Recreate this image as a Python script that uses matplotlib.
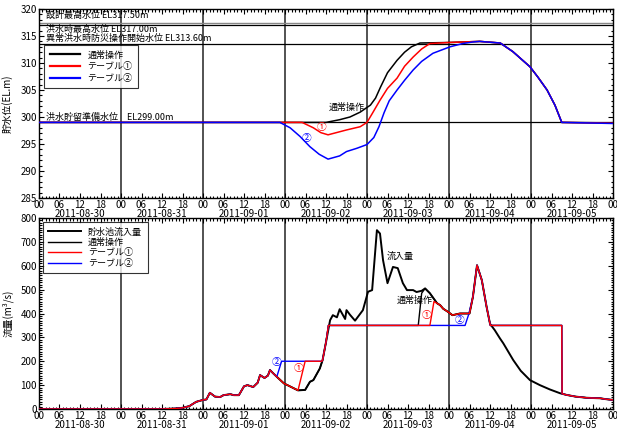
import matplotlib
matplotlib.use("Agg")
import matplotlib.pyplot as plt
from matplotlib.ticker import MultipleLocator

plt.rcParams['font.family'] = ['Noto Sans CJK JP', 'DejaVu Sans']

# 時間は 2011-08-30 00時 からの経過時間 [h]
dates = ['2011-08-30', '2011-08-31', '2011-09-01', '2011-09-02',
         '2011-09-03', '2011-09-04', '2011-09-05']
hour_labels = ['00', '06', '12', '18']

# 貯水位 (EL.m)
lvl_normal_t = [0, 84, 88, 91, 94, 97, 98.5, 100, 102, 104.8, 107, 109, 111.5,
                120, 129, 135, 138.7, 143.7, 146, 148.7, 151, 153, 168]
lvl_normal_v = [299.0, 299.0, 299.5, 300.0, 300.9, 302.2, 303.5, 305.6, 308.2,
                310.5, 312.0, 313.0, 313.7, 313.8, 314.0, 313.7, 312.1, 309.3,
                307.4, 305.0, 302.2, 299.0, 298.9]
lvl_t1_t = [0, 77, 80.3, 82.5, 84.6, 87, 90, 94, 96, 97.5, 99.8, 102, 104.8,
            107, 109.5, 112, 114.4, 120, 129, 135, 138.7, 143.7, 146, 148.7,
            151, 153, 168]
lvl_t1_v = [299.0, 299.0, 298.0, 297.1, 296.7, 297.1, 297.6, 298.2, 299.0,
            300.6, 303.1, 305.3, 307.2, 309.4, 311.1, 312.6, 313.6, 313.8,
            314.0, 313.7, 312.1, 309.3, 307.4, 305.0, 302.2, 299.0, 298.85]
lvl_t2_t = [0, 70.5, 73.5, 76.4, 79.3, 82, 84.6, 88, 90, 93, 96, 98, 99.5,
            101, 102.5, 104.8, 107, 109.5, 112, 115.3, 120.3, 124, 127, 129,
            135, 138.7, 143.7, 146, 148.7, 151, 153, 168]
lvl_t2_v = [299.0, 299.0, 298.0, 296.4, 294.5, 293.1, 292.2, 292.8, 293.6,
            294.2, 294.9, 296.2, 298.2, 300.8, 303.0, 305.0, 306.8, 308.7,
            310.3, 311.8, 313.0, 313.6, 313.9, 314.0, 313.7, 312.1, 309.3,
            307.4, 305.0, 302.2, 299.0, 298.8]

# 貯水池流入量 (m3/s)
inflow_t = [0, 36, 40, 42, 44, 46, 48, 49, 50, 51.5, 53, 54, 56, 57, 58.5, 60,
            61, 62.7, 64, 64.7, 66, 67, 67.6, 68.5, 69.6, 71.7, 73, 75.8, 77.9,
            79.3, 80.3, 82.2, 83, 84, 85.2, 86, 87.2, 88, 89.6, 90, 91, 92.5,
            94.8, 96.3, 97.5, 98.9, 99.8, 100.7, 102, 103.6, 105, 106.5, 107.7,
            109.5, 110.5, 112, 113, 114.4, 116.5, 117.4, 118.3, 119.7, 121,
            123.2, 126, 127, 128.2, 129.6, 131, 132, 133.4, 134.9, 135.9,
            138.8, 141, 143.7, 146.6, 149.5, 152.5, 154.4, 157, 160.3, 162,
            164.2, 166, 168]
inflow_v = [0, 0, 2, 5, 12, 30, 38, 40, 68, 52, 50, 58, 62, 58, 58, 95, 100,
            92, 110, 142, 130, 140, 163, 150, 135, 107, 98, 78, 80, 114, 121,
            170, 205, 280, 372, 393, 384, 418, 377, 414, 395, 370, 414, 491,
            498, 749, 735, 623, 527, 595, 590, 527, 498, 498, 490, 495, 505,
            485, 443, 435, 420, 407, 393, 400, 400, 470, 602, 540, 428, 357,
            330, 296, 275, 205, 160, 121, 100, 82, 66, 59, 52, 47, 46, 45, 41,
            38]

# 放流量 (m3/s)
early_t = [0, 36, 40, 42, 44, 46, 48, 49, 50, 51.5, 53, 54, 56, 57, 58.5, 60,
           61, 62.7, 64, 64.7, 66, 67, 67.6, 68.5, 69.6]
early_v = [0, 0, 2, 5, 12, 30, 38, 40, 68, 52, 50, 58, 62, 58, 58, 95, 100,
           92, 110, 142, 130, 140, 163, 150, 135]
tail_t = [132.1, 153, 153.1, 154.4, 157, 160.3, 162, 164.2, 166, 168]
tail_v = [350, 350, 64, 59, 52, 47, 46, 45, 41, 38]

out_normal_t = early_t + [71.7, 73, 75.8, 77.9, 79.3, 80.3, 82.2, 83, 84, 84.7,
                          111, 112, 113, 114.4, 116.5, 117.4, 118.3, 119.7, 121,
                          123.2, 126, 127, 128.2, 129.6, 131] + tail_t
out_normal_v = early_v + [107, 98, 78, 80, 114, 121, 170, 205, 280, 350,
                          350, 485, 505, 485, 443, 435, 420, 407, 393,
                          400, 400, 470, 602, 540, 428] + tail_v
out_t1_t = early_t + [71.7, 73, 75.8, 77.9, 82.8, 83, 84, 84.7, 114.4, 115.6,
                      116.5, 117.4, 118.3, 119.7, 121, 123.2, 126, 127, 128.2,
                      129.6, 131] + tail_t
out_t1_v = early_v + [107, 98, 78, 200, 200, 205, 280, 350, 350, 450,
                      443, 435, 420, 407, 393, 400, 400, 470, 602,
                      540, 428] + tail_v
out_t2_t = early_t + [71.0, 82.8, 83, 84, 84.7, 124.7, 125.8, 127, 128.2,
                      129.6, 131] + tail_t
out_t2_v = early_v + [200, 200, 205, 280, 350, 350, 398, 470, 602,
                      540, 428] + tail_v

FS = 7
fig = plt.figure(figsize=(6.17, 4.29), dpi=100)
ax1 = fig.add_axes([39 / 617, 1 - 198 / 429, 574 / 617, 189 / 429])
ax2 = fig.add_axes([39 / 617, 1 - 409 / 429, 574 / 617, 191 / 429])

for ax in (ax1, ax2):
    ax.set_xlim(0, 168)
    ax.set_xticks(range(0, 169, 6))
    ax.set_xticklabels([hour_labels[i % 4] for i in range(29)])
    ax.xaxis.set_minor_locator(MultipleLocator(1))
    ax.tick_params(which='both', direction='in', top=True, right=True,
                   labelsize=FS, pad=1.5, width=0.8)
    ax.tick_params(which='major', length=3.5)
    ax.tick_params(which='minor', length=1.8)
    for d in range(24, 168, 24):
        ax.axvline(d, color='#444444', lw=1.3, zorder=1)
    for i, d in enumerate(dates):
        ax.text(12 + 24 * i, -0.085, d, transform=ax.get_xaxis_transform(),
                ha='center', va='center', fontsize=FS)
    for s in ax.spines.values():
        s.set_linewidth(1.0)

# 上段：貯水位
ax1.set_ylim(285, 320)
ax1.set_yticks(range(285, 321, 5))
ax1.yaxis.set_minor_locator(MultipleLocator(1))
ax1.axhline(317.5, color='#888888', lw=1.0, zorder=1)
ax1.axhline(317.0, color='black', lw=0.9, zorder=1)
ax1.axhline(313.6, color='black', lw=0.9, zorder=1)
ax1.axhline(299.0, color='black', lw=0.9, zorder=1)
ax1.text(2, 318.8, '設計最高水位 EL317.50m', fontsize=6.5, va='center')
ax1.text(2, 316.3, '洪水時最高水位 EL317.00m', fontsize=6.5, va='center')
ax1.text(2, 314.6, '異常洪水時防災操作開始水位 EL313.60m', fontsize=6.5, va='center')
ax1.text(2, 300.0, '洪水貯留準備水位　EL299.00m', fontsize=6.5, va='center')

ax1.plot(lvl_normal_t, lvl_normal_v, color='black', lw=1.1, label='通常操作', zorder=3)
ax1.plot(lvl_t1_t, lvl_t1_v, color='red', lw=1.1, label='テーブル①', zorder=3)
ax1.plot(lvl_t2_t, lvl_t2_v, color='blue', lw=1.1, label='テーブル②', zorder=3)
ax1.text(90, 301.8, '通常操作', fontsize=6.5, ha='center', va='center')
ax1.text(82.8, 298.1, '①', fontsize=7, color='red', ha='center', va='center')
ax1.text(78.4, 296.1, '②', fontsize=7, color='blue', ha='center', va='center')
ax1.set_ylabel('貯水位(EL.m)', fontsize=FS)
ax1.yaxis.set_label_coords(-0.045, 0.5)
leg1 = ax1.legend(loc='upper left', bbox_to_anchor=(0.009, 0.81), fontsize=6.5,
                  frameon=True, fancybox=False, handlelength=3.4,
                  labelspacing=0.3, borderaxespad=0, borderpad=0.6)
leg1.get_frame().set_edgecolor('black')
leg1.get_frame().set_linewidth(0.8)
for ln in leg1.get_lines():
    ln.set_linewidth(1.6)

# 下段：流量
ax2.set_ylim(0, 800)
ax2.set_yticks(range(0, 801, 100))
ax2.yaxis.set_minor_locator(MultipleLocator(10))
ax2.plot(inflow_t, inflow_v, color='black', lw=1.4, label='貯水池流入量', zorder=3)
ax2.plot(out_normal_t, out_normal_v, color='black', lw=1.0, label='通常操作', zorder=4)
ax2.plot(out_t2_t, out_t2_v, color='blue', lw=1.0, label='テーブル②', zorder=5)
ax2.plot(out_t1_t, out_t1_v, color='red', lw=1.0, label='テーブル①', zorder=6)
ax2.text(105.8, 640, '流入量', fontsize=6.5, ha='center', va='center')
ax2.text(110, 456, '通常操作', fontsize=6.5, ha='center', va='center')
ax2.text(113.5, 395, '①', fontsize=7, color='red', ha='center', va='center')
ax2.text(123.2, 372, '②', fontsize=7, color='blue', ha='center', va='center')
ax2.text(69.4, 196, '②', fontsize=7, color='blue', ha='center', va='center')
ax2.text(76.1, 170, '①', fontsize=7, color='red', ha='center', va='center')
ax2.set_ylabel('流量(m³/s)', fontsize=FS)
ax2.yaxis.set_label_coords(-0.045, 0.5)
h, l = ax2.get_legend_handles_labels()
order = [0, 1, 3, 2]
leg2 = ax2.legend([h[i] for i in order], [l[i] for i in order], loc='upper left',
                  bbox_to_anchor=(0.007, 0.979), fontsize=6.5, frameon=True,
                  fancybox=False, handlelength=3.6, labelspacing=0.15,
                  borderaxespad=0, borderpad=0.6)
leg2.get_frame().set_edgecolor('black')
leg2.get_frame().set_linewidth(0.8)

fig.savefig('out.png', dpi=100)
